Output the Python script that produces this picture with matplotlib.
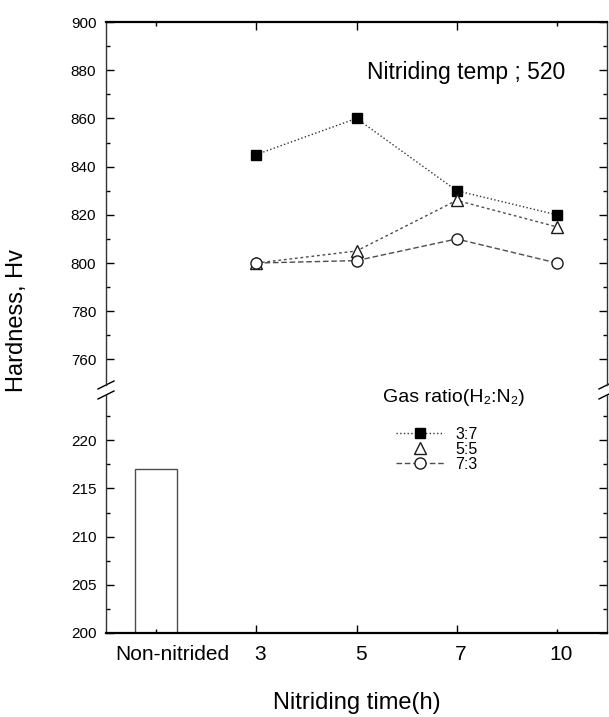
import matplotlib.pyplot as plt
import numpy as np
from matplotlib.lines import Line2D
from matplotlib.transforms import ScaledTranslation

plt.rcParams['font.family'] = ['Liberation Sans', 'DejaVu Sans']

# data
categories = ['Non-nitrided', '3', '5', '7', '10']
base_hardness = [217]
ratio_37 = [845, 860, 830, 820]
ratio_55 = [800, 805, 826, 815]
ratio_73 = [800, 801, 810, 800]
ratio_labels = ['3:7', '5:5', '7:3']

x = np.arange(len(categories))

W, H = 609, 717
fig = plt.figure(figsize=(W / 100, H / 100), dpi=100)


def box(l, t, r, b):
    return [l / W, 1 - b / H, (r - l) / W, (b - t) / H]


ax_top = fig.add_axes(box(106, 22, 607, 385))
ax_bot = fig.add_axes(box(106, 395, 607, 633), sharex=ax_top)

# upper part: nitrided samples
ax_top.plot(x[1:], ratio_37, color='0.2', lw=1, ls=':', marker='s',
            ms=7, mfc='black', mec='black')
ax_top.plot(x[1:], ratio_55, color='0.3', lw=1, ls=(0, (2, 2)), marker='^',
            ms=8, mfc='white', mec='0.1', mew=1)
ax_top.plot(x[1:], ratio_73, color='0.3', lw=1, ls=(0, (4, 2)), marker='o',
            ms=8, mfc='white', mec='0.1', mew=1)

# lower part: non-nitrided bar
ax_bot.bar(x[:1], [v - 200 for v in base_hardness], bottom=200, width=0.42,
           color='white', edgecolor='0.3', lw=1)

ax_top.set_ylim(749.4, 900)
ax_bot.set_ylim(200, 224.7)
ax_top.set_xlim(-0.5, 4.5)

ax_top.set_yticks(np.arange(760, 901, 20))
ax_top.set_yticks(np.arange(770, 900, 20), minor=True)
ax_bot.set_yticks(np.arange(200, 221, 5))
ax_bot.set_yticks(np.arange(202.5, 224, 5), minor=True)

ax_bot.set_xticks([1, 2, 3], categories[1:4])
ax_bot.set_xticks([0, 4], [categories[0], categories[4]], minor=True)

for ax in (ax_top, ax_bot):
    ax.tick_params(which='both', direction='in', left=True, right=True,
                   top=True, bottom=True, labelsize=11, pad=7)
    ax.tick_params(which='major', length=6, width=1)
    ax.tick_params(which='minor', length=3, width=1)
    ax.spines['left'].set_linewidth(1)
    ax.spines['right'].set_linewidth(1)
    ax.spines['left'].set_color('0.2')
    ax.spines['right'].set_color('0.2')

ax_top.spines['bottom'].set_visible(False)
ax_top.spines['top'].set_linewidth(1.6)
ax_top.tick_params(axis='x', which='both', bottom=False, labelbottom=False)
ax_bot.spines['top'].set_visible(False)
ax_bot.spines['bottom'].set_linewidth(1.6)
ax_bot.tick_params(axis='x', which='both', top=False, labelsize=15, pad=9)

# labels sit a little right of their ticks in the original
for lab in ax_bot.get_xticklabels() + ax_bot.get_xticklabels(minor=True):
    shift = 16 if lab.get_text() == 'Non-nitrided' else 4
    lab.set_transform(lab.get_transform() +
                      ScaledTranslation(shift / 100, 0, fig.dpi_scale_trans))

# break marks
for ax, yb in ((ax_top, 0), (ax_bot, 1)):
    bb = ax.get_position()
    dx = 8 / (bb.width * W)
    dy = 4 / (bb.height * H)
    for xb in (0, 1):
        ax.plot([xb - dx, xb + dx], [yb - dy, yb + dy], transform=ax.transAxes,
                color='black', lw=1, clip_on=False)

ax_bot.set_xlabel('Nitriding time(h)', fontsize=17, labelpad=20)
fig.text(17 / W, 1 - 320 / H, 'Hardness, Hv', rotation=90, fontsize=17,
         ha='center', va='center')
fig.text(565 / W, 1 - 73 / H, 'Nitriding temp ; 520', fontsize=16.5,
         ha='right', va='center')

fig.text(383 / W, 1 - 398 / H, 'Gas ratio(H\u2082:N\u2082)', fontsize=14,
         ha='left', va='center')
handles = [
    Line2D([], [], color='0.2', lw=1, ls=':', marker='s', ms=7,
           mfc='black', mec='black'),
    Line2D([], [], ls='none', marker='^', ms=8, mfc='white', mec='0.1'),
    Line2D([], [], color='0.3', lw=1, ls=(0, (4, 2)), marker='o', ms=8,
           mfc='white', mec='0.1'),
]
fig.legend(handles, ratio_labels, loc='upper left',
           bbox_to_anchor=(388 / W, 1 - 419 / H),
           frameon=False, fontsize=11.5, borderpad=0,
           handlelength=3.0, labelspacing=0.0, handletextpad=0.7)

fig.savefig('out.png', dpi=100)
